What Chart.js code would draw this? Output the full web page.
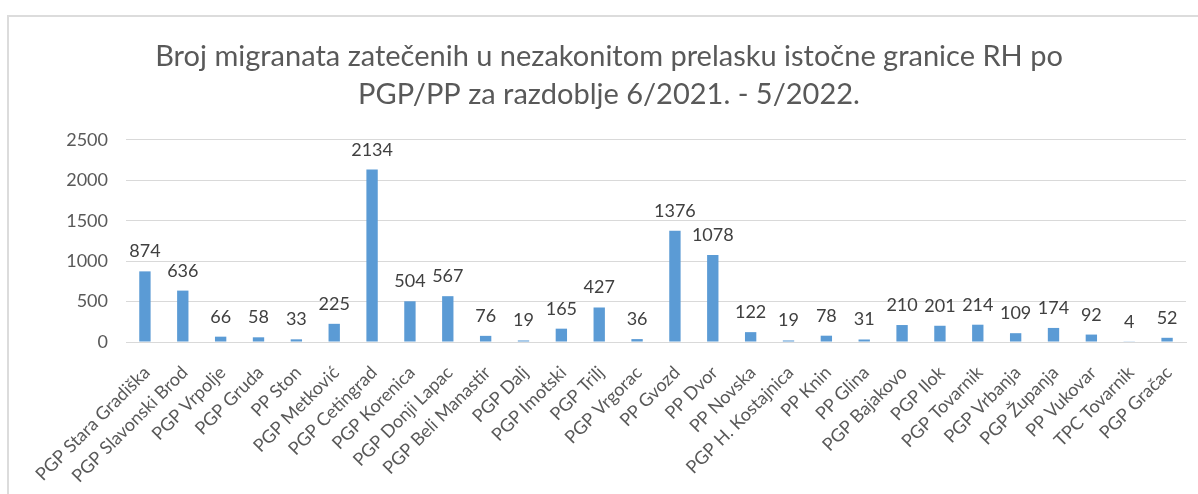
<!DOCTYPE html>
<html>
<head>
<meta charset="utf-8">
<script src="https://cdn.jsdelivr.net/npm/chart.js@4.4.1/dist/chart.umd.min.js"></script>
<style>
  html, body { margin: 0; padding: 0; background: #ffffff; overflow: hidden; }
  #wrap { position: relative; width: 1198px; height: 494px; }
  #frame { position: absolute; left: 7px; top: 15px; width: 1300px; height: 600px;
           border-top: 2px solid #dcdcdc; border-left: 2px solid #dcdcdc; box-sizing: border-box; }
  canvas { position: absolute; left: 0; top: 0; }
</style>
</head>
<body>
<div id="wrap">
  <div id="frame"></div>
  <canvas id="c" width="1198" height="494"></canvas>
</div>
<script>
const titleLines = ["Broj migranata zatečenih u nezakonitom prelasku istočne granice RH po", "PGP/PP za razdoblje 6/2021. - 5/2022."];
const categories = ["PGP Stara Gradiška", "PGP Slavonski Brod", "PGP Vrpolje", "PGP Gruda", "PP Ston", "PGP Metković", "PGP Cetingrad", "PGP Korenica", "PGP Donji Lapac", "PGP Beli Manastir", "PGP Dalj", "PGP Imotski", "PGP Trilj", "PGP Vrgorac", "PP Gvozd", "PP Dvor", "PP Novska", "PGP H. Kostajnica", "PP Knin", "PP Glina", "PGP Bajakovo", "PGP Ilok", "PGP Tovarnik", "PGP Vrbanja", "PGP Županja", "PP Vukovar", "TPC Tovarnik", "PGP Gračac"];
const values = [874, 636, 66, 58, 33, 225, 2134, 504, 567, 76, 19, 165, 427, 36, 1376, 1078, 122, 19, 78, 31, 210, 201, 214, 109, 174, 92, 4, 52];
const yTicks = [0, 500, 1000, 1500, 2000, 2500];

const FONT = "Lato, 'Open Sans', sans-serif";

const dataLabels = {
  id: 'dataLabels',
  afterDatasetsDraw(chart) {
    const ctx = chart.ctx;
    const meta = chart.getDatasetMeta(0);
    ctx.save();
    ctx.font = "18px " + FONT;
    ctx.fillStyle = "#404040";
    ctx.textAlign = "center";
    ctx.textBaseline = "alphabetic";
    meta.data.forEach((bar, i) => {
      ctx.fillText(String(values[i]), bar.x, bar.y - 14);
    });
    ctx.restore();
  }
};

new Chart(document.getElementById('c'), {
  type: 'bar',
  data: {
    labels: categories,
    datasets: [{
      data: values,
      backgroundColor: '#5b9bd5',
      borderWidth: 0,
      barPercentage: 0.5,
      categoryPercentage: 0.6
    }]
  },
  options: {
    responsive: false,
    animation: false,
    devicePixelRatio: 1,
    layout: { padding: { left: 32, right: 12, top: 0, bottom: 0 } },
    plugins: {
      legend: { display: false },
      tooltip: { enabled: false },
      title: {
        display: true,
        text: titleLines,
        color: '#595959',
        font: { family: FONT, size: 29, weight: 'normal', lineHeight: 1.31 },
        padding: { top: 38, bottom: 26 }
      }
    },
    scales: {
      x: {
        grid: { display: false },
        border: { display: true, color: '#d9d9d9', width: 1 },
        ticks: {
          color: '#595959',
          font: { family: FONT, size: 18 },
          minRotation: 45,
          maxRotation: 45,
          autoSkip: false,
          padding: 12,
          labelOffset: 2
        },
        afterFit(scale) { scale.height = 152; }
      },
      y: {
        min: 0,
        max: 2500,
        afterBuildTicks(scale) { scale.ticks = yTicks.map(v => ({ value: v })); },
        grid: { color: '#d9d9d9', lineWidth: 1, drawTicks: false },
        border: { display: false },
        ticks: {
          color: '#595959',
          font: { family: FONT, size: 18 },
          padding: 18,
          callback: (v) => String(v)
        },
        afterFit(scale) { scale.width = 94; }
      }
    }
  },
  plugins: [dataLabels]
});
</script>
</body>
</html>
